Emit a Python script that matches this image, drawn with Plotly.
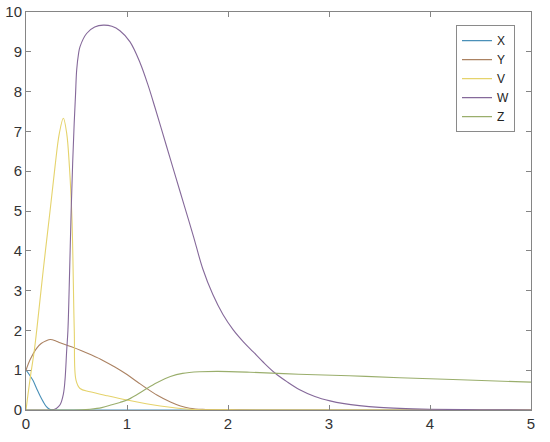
import plotly.graph_objects as go

# ---- data ----
x_X = [0, 0.035, 0.07, 0.105, 0.14, 0.17, 0.2, 0.23, 0.26, 0.3, 1.0, 2.0, 3.0, 4.0, 5.0]
y_X = [1, 0.88, 0.74, 0.54, 0.35, 0.21, 0.09, 0.025, 0.005, 0, 0, 0, 0, 0, 0]

x_Y = [0, 0.04, 0.105, 0.15, 0.2, 0.24, 0.3, 0.337, 0.45, 0.55, 0.65, 0.766, 0.88, 1.0,
       1.1, 1.195, 1.3, 1.43, 1.53, 1.62, 1.75, 2.0, 2.5, 5.0]
y_Y = [1, 1.26, 1.55, 1.67, 1.74, 1.77, 1.73, 1.69, 1.59, 1.49, 1.38, 1.24, 1.08, 0.89,
       0.71, 0.54, 0.37, 0.2, 0.1, 0.045, 0.015, 0.004, 0, 0]

x_V = [0, 0.02, 0.05, 0.08, 0.106, 0.17, 0.238, 0.287, 0.33, 0.37, 0.403, 0.43, 0.455,
       0.478, 0.495, 0.535, 0.634, 0.8, 1.0, 1.33, 1.62, 2.0, 2.5, 5.0]
y_V = [0, 0.4, 0.95, 1.45, 2.0, 3.5, 5.0, 6.11, 6.95, 7.33, 6.95, 6.11, 4.8,
       2.0, 0.75, 0.54, 0.46, 0.36, 0.25, 0.1, 0.02, 0.003, 0, 0]

x_W = [0, 0.2, 0.25, 0.3, 0.337, 0.37, 0.386, 0.403, 0.415, 0.432, 0.447, 0.462, 0.477,
       0.49, 0.502, 0.52, 0.535, 0.6, 0.68, 0.766, 0.85, 0.93, 1.03, 1.13, 1.21, 1.277,
       1.39, 1.47, 1.57, 1.657, 1.75, 1.85, 1.95, 2.05, 2.15, 2.25, 2.35, 2.465, 2.59,
       2.71, 2.86, 3.01, 3.15, 3.3, 3.5, 3.7, 4.0, 4.5, 5.0]
y_W = [0, 0, 0, 0.04, 0.13, 0.4, 0.75, 1.5, 2.0, 3.5, 5.0, 6.2, 7.2,
       7.9, 8.55, 8.95, 9.13, 9.46, 9.62, 9.67, 9.64, 9.53, 9.25, 8.72, 8.15, 7.6,
       6.64, 5.96, 5.11, 4.37, 3.55, 2.9, 2.4, 2.02, 1.72, 1.46, 1.2, 0.93, 0.7,
       0.51, 0.34, 0.23, 0.16, 0.11, 0.065, 0.04, 0.02, 0.005, 0]

x_Z = [0, 0.4, 0.55, 0.634, 0.75, 0.85, 0.93, 1.0, 1.1, 1.195, 1.3, 1.43, 1.55, 1.72,
       1.9, 2.218, 2.7, 3.2, 3.7, 4.3, 5.0]
y_Z = [0, 0, 0.005, 0.02, 0.06, 0.13, 0.19, 0.25, 0.39, 0.54, 0.69, 0.84, 0.92, 0.96,
       0.97, 0.95, 0.9, 0.86, 0.81, 0.76, 0.70]

names = ["X", "Y", "V", "W", "Z"]
colors = ["#4a90b8", "#ab8262", "#e5d36c", "#85699a", "#9aae6c"]
series = [(x_X, y_X), (x_Y, y_Y), (x_V, y_V), (x_W, y_W), (x_Z, y_Z)]

x_ticks = [0, 1, 2, 3, 4, 5]
y_ticks = [0, 1, 2, 3, 4, 5, 6, 7, 8, 9, 10]

fig = go.Figure()
for name, col, (xs, ys) in zip(names, colors, series):
    fig.add_trace(go.Scatter(
        x=xs, y=ys, mode="lines", name=name,
        line=dict(color=col, width=1.1, shape="spline", smoothing=1.0),
    ))

axis_common = dict(
    showline=True, linecolor="#858585", linewidth=1, mirror="ticks",
    ticks="inside", ticklen=5, tickcolor="#858585", tickwidth=1,
    showgrid=False, zeroline=False,
    tickfont=dict(family="Liberation Sans, Arial, sans-serif", size=15, color="#333333"),
    ticklabeloverflow="allow",
    automargin=False,
)

fig.update_layout(
    width=550, height=442,
    margin=dict(l=26, r=19, t=12, b=32),
    paper_bgcolor="white", plot_bgcolor="white",
    xaxis=dict(range=[0, 5], tickvals=x_ticks, **axis_common),
    yaxis=dict(range=[0, 10], tickvals=y_ticks, **axis_common),
    legend=dict(
        x=0.8515, y=0.967, xanchor="left", yanchor="top",
        bordercolor="#8a8a8a", borderwidth=1, bgcolor="white",
        font=dict(family="Liberation Sans, Arial, sans-serif", size=12, color="#222222"),
        tracegroupgap=0, itemwidth=30,
    ),
    showlegend=True,
)

fig.write_html("out.html", config={"displayModeBar": False},
               post_script="document.body.style.margin='0';")
